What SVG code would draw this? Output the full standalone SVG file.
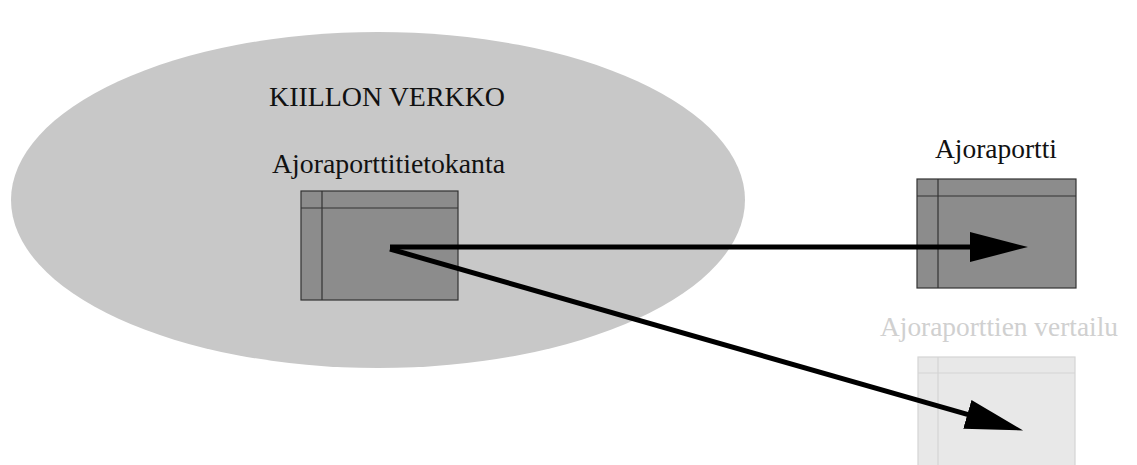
<svg xmlns="http://www.w3.org/2000/svg" width="1137" height="465" viewBox="0 0 1137 465">
<defs>
<style>
.t{font-family:"Liberation Serif","Times New Roman",serif;font-size:27px;fill:#111}
.box{fill:#8c8c8c;stroke:#333;stroke-width:1.2}
.boxl{fill:#e8e8e8;stroke:#d4d4d4;stroke-width:1.2}
.con{stroke:#000;stroke-width:5;fill:none}
</style>
<marker id="ah" markerUnits="userSpaceOnUse" markerWidth="60" markerHeight="32" refX="30" refY="15" orient="auto">
<path d="M0,0 L58,15 L0,30 Z" fill="#000"/>
</marker>
</defs>
<rect width="1137" height="465" fill="#fff"/>
<g id="network">
<ellipse cx="378" cy="200" rx="367" ry="168" fill="#c8c8c8"/>
<text class="t" x="269" y="106" textLength="236" lengthAdjust="spacingAndGlyphs">KIILLON VERKKO</text>
</g>
<g id="db">
<text class="t" x="272" y="173" textLength="233" lengthAdjust="spacingAndGlyphs">Ajoraporttitietokanta</text>
<rect class="box" x="301" y="191" width="157" height="109"/>
<line x1="301" y1="208" x2="458" y2="208" stroke="#333" stroke-width="1.2"/>
<line x1="322" y1="191" x2="322" y2="300" stroke="#333" stroke-width="1.2"/>
</g>
<g id="report">
<text class="t" x="935" y="158" textLength="122" lengthAdjust="spacingAndGlyphs">Ajoraportti</text>
<rect class="box" x="917" y="179" width="159" height="109"/>
<line x1="917" y1="196" x2="1076" y2="196" stroke="#333" stroke-width="1.2"/>
<line x1="938" y1="179" x2="938" y2="288" stroke="#333" stroke-width="1.2"/>
</g>
<g id="compare">
<text class="t" x="880" y="336" textLength="238" lengthAdjust="spacingAndGlyphs" style="fill:#d0d0d0">Ajoraporttien vertailu</text>
<rect class="boxl" x="918" y="357" width="157" height="120"/>
<line x1="918" y1="373" x2="1075" y2="373" stroke="#d4d4d4" stroke-width="1.2"/>
<line x1="938" y1="357" x2="938" y2="470" stroke="#d4d4d4" stroke-width="1.2"/>
</g>
<g id="connectors">
<line class="con" x1="390" y1="247" x2="1000" y2="247" marker-end="url(#ah)"/>
<line class="con" x1="390" y1="249" x2="996.2" y2="422.7" marker-end="url(#ah)"/>
</g>
</svg>
